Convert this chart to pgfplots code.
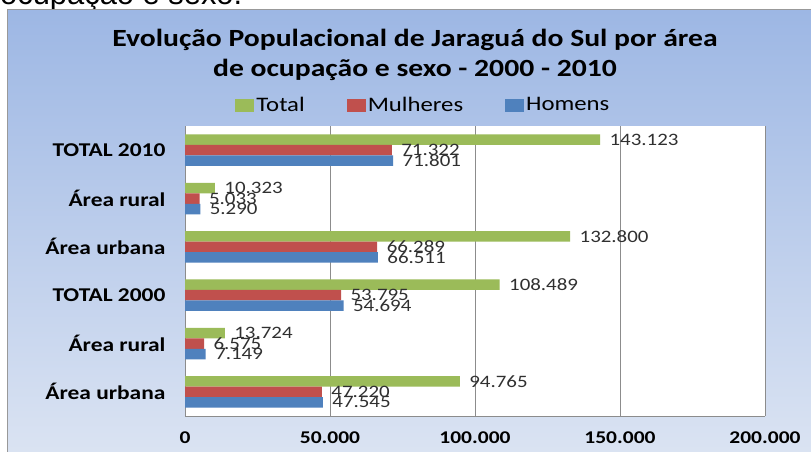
\documentclass[border=0pt]{standalone}
\usepackage{pgfplots}
\pgfplotsset{compat=1.18}
\usepackage{fontspec}
\setmainfont[FakeStretch=1.2]{Carlito}
\newfontfamily\arialf{Liberation Sans}
\definecolor{bgtop}{HTML}{9DB7E4}
\definecolor{bgbot}{HTML}{DDE5F3}
\definecolor{cgreen}{HTML}{9BBB59}
\definecolor{cred}{HTML}{C0504D}
\definecolor{cblue}{HTML}{4F81BD}
\definecolor{axgray}{HTML}{8C8C8C}
\definecolor{lblgray}{HTML}{303030}
\begin{document}
\begin{tikzpicture}
\useasboundingbox (0bp,0bp) rectangle (811bp,452bp);
\node[anchor=base west, font=\arialf\fontsize{31}{34}\selectfont, inner sep=0] at (0bp,447.5bp) {ocupação e sexo.};
\shade[top color=bgtop, bottom color=bgbot] (7.5bp,-20bp) rectangle (830bp,442.5bp);
\draw[draw=gray!80, line width=1.2bp] (7.5bp,-20bp) -- (7.5bp,442.5bp) -- (830bp,442.5bp);
\node[align=center, font=\bfseries\fontsize{24.8}{30}\selectfont] at (415bp,397bp) {Evolução Populacional de Jaraguá do Sul por área\\de ocupação e sexo - 2000 - 2010};
\begin{axis}[
  at={(185bp,36bp)}, anchor=south west,
  scale only axis, width=580bp, height=290bp,
  xmin=0, xmax=200000, ymin=-0.5, ymax=5.5,
  axis background/.style={fill=white},
  axis x line*=bottom, axis y line*=left,
  axis line style={axgray, line width=0.8bp},
  major tick length=0pt,
  xtick={0,50000,100000,150000,200000},
  scaled x ticks=false,
  /pgf/number format/.cd, fixed, precision=0, 1000 sep={.}, assume math mode=true, /pgfplots/.cd,
  xmajorgrids, grid style={axgray, line width=0.8bp},
  xticklabel style={font=\bfseries\fontsize{18}{20}\selectfont, yshift=-12bp},
  ytick={0,1,2,3,4,5},
  yticklabels={Área urbana, Área rural, TOTAL 2000, Área urbana, Área rural, TOTAL 2010},
  yticklabel style={font=\bfseries\fontsize{19.6}{21}\selectfont, xshift=-16bp},
  bar width=10.5bp,
  point meta=x,
  nodes near coords,
  every node near coord/.append style={anchor=west, xshift=6bp, font=\fontsize{17.5}{18}\selectfont, text=lblgray},
  legend columns=3,
  legend style={draw=none, fill=none, at={(0.411,1.072)}, anchor=center, font=\fontsize{20.7}{22}\selectfont,
    /tikz/every even column/.append style={column sep=40bp}},
  legend image code/.code={\fill[#1] (0bp,-6.5bp) rectangle (19bp,6.5bp);},
]
\addplot[xbar, fill=cgreen, draw=none, bar shift=10.5bp,
  every node near coord/.append style={yshift=10.5bp}] coordinates {
(94765,0) (13724,1) (108489,2) (132800,3) (10323,4) (143123,5)};
\addlegendentry{Total}
\addplot[xbar, fill=cred, draw=none, bar shift=0bp] coordinates {
(47220,0) (6575,1) (53795,2) (66289,3) (5033,4) (71322,5)};
\addlegendentry{Mulheres}
\addplot[xbar, fill=cblue, draw=none, bar shift=-10.5bp,
  every node near coord/.append style={yshift=-10.5bp}] coordinates {
(47545,0) (7149,1) (54694,2) (66511,3) (5290,4) (71801,5)};
\addlegendentry{Homens}
\end{axis}
\end{tikzpicture}
\end{document}
